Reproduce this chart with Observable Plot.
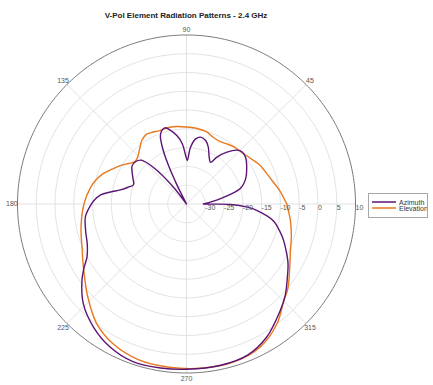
<!DOCTYPE html>
<html><head><meta charset="utf-8">
<script src="https://cdn.jsdelivr.net/npm/d3@7"></script>
<script src="https://cdn.jsdelivr.net/npm/@observablehq/plot@0.6"></script>
<style>
body{margin:0;background:#fff;font-family:"Liberation Sans",Arial,sans-serif;}
#wrap{position:relative;width:433px;height:385px;overflow:hidden;}
#chart svg{display:block;}
#title{position:absolute;left:0;width:372px;top:11px;text-align:center;font-weight:bold;font-size:8px;line-height:9px;color:#222;}
#legend{position:absolute;left:368px;top:193px;width:60px;height:25px;border:1px solid #a8a8a8;box-sizing:border-box;background:#fff;}
#legend svg{display:block;}
</style></head><body>
<div id="wrap"><div id="chart"></div><div id="title"></div><div id="legend"></div></div>
<script>
const chartTitle = "V-Pol Element Radiation Patterns - 2.4 GHz";
const seriesNames = ["Azimuth", "Elevation"];
const seriesColors = ["#5c1475", "#e8791e"];

// Azimuth pattern: angle (deg) and gain (dB)
const azAngles = [0,9,16,23,31,38,43,47,52,57,60,64,69,73,78,82,86,89,91,94,98,102,106,109,111,113,115,116.5,118,124,128,132,136,140,145,150,155,160,164,168,171,174,178,181,187,195,202,208,212,216,224,233,242,251,261,270,282,292,301,311,317,324,330,337,341,349,354.7,357,359.3,359.8,360];
const azValues = [-30.5,-25.8,-20.1,-17.9,-16.3,-15.0,-14.7,-15.4,-17.5,-20.1,-22.2,-21.2,-18.8,-17.4,-16.8,-17.5,-19.9,-23.4,-22.1,-18.9,-16.6,-15.0,-13.9,-14.5,-15.6,-18.5,-23.5,-29,-35,-35,-29,-22,-18.2,-17.4,-17.3,-18.3,-19.3,-20.0,-18.8,-17.0,-14.5,-12.0,-10.3,-9.4,-7.9,-7.2,-6.5,-5.0,-2.8,-0.6,3.2,6.1,8.2,9.3,9.2,9.0,8.9,8.4,6.4,2.9,0.9,-1.8,-3.8,-6.5,-8.0,-11.4,-16.1,-18.8,-23.3,-27.5,-30.5];

// Elevation pattern: angle (deg) and gain (dB)
const elAngles = [0,8,15,23,28,35,42,50,56,61,68,75,82,90,97,103,110,116,120,125,131,137,141,145,150,155,160,165,170,180,192,204,210,215,223,233,242,253,264,275,287,297,307,315,320,325,336,343,351,360];
const elValues = [-8.3,-9.9,-11.3,-12.4,-12.9,-14.0,-14.8,-15.2,-15.7,-16.1,-15.9,-15.0,-14.7,-14.5,-14.2,-14.1,-14.2,-13.8,-13.6,-14.3,-15.9,-17.1,-17.2,-16.2,-14.6,-13.1,-11.4,-10.1,-9.1,-7.7,-6.3,-4.6,-3.2,-1.8,1.0,4.8,7.0,8.4,8.7,8.9,8.9,7.9,5.0,1.6,0.2,-1.6,-4.7,-5.8,-7.0,-8.3];

const rMin = -35, rMax = 10;
const ringTicks = [-30,-25,-20,-15,-10,-5,0,5];
const radialTicks = [-30,-25,-20,-15,-10,-5,0,5,10];
const radialLabels = ["-30","-25","-20","-15","-10","-5","0","5","10"];
const spokeAngles = [0,45,90,135,180,225,270,315];
const angleTicks = [45,90,135,180,225,270,315];
const angleLabels = ["45","90","135","180","225","270","315"];

const lat = v => 90 - (Math.max(v, rMin) - rMin);
const circle = r => d3.geoCircle().center([0, 90]).radius(r).precision(1)();

const azimuth = azAngles.map((a, i) => ({angle: a, db: azValues[i]}));
const elevation = elAngles.map((a, i) => ({angle: a, db: elValues[i]}));

const plot = Plot.plot({
  width: 433, height: 385,
  marginLeft: 17, marginRight: 78, marginTop: 34.5, marginBottom: 12.5,
  style: {fontFamily: "'Liberation Sans', Arial, sans-serif", background: "transparent"},
  projection: {type: "azimuthal-equidistant", rotate: [90, -90], domain: circle(rMax - rMin), clip: false},
  marks: [
    Plot.geo(ringTicks, {geometry: t => circle(t - rMin), fill: "none", stroke: "#dedede", strokeWidth: 0.9}),
    Plot.link(spokeAngles, {x1: a => a, y1: 90, x2: a => a, y2: lat(rMax), stroke: "#dedede", strokeWidth: 0.9}),
    Plot.geo([rMax], {geometry: t => circle(t - rMin), fill: "none", stroke: "#7a7a7a", strokeWidth: 1}),
    Plot.line(elevation, {x: "angle", y: d => lat(d.db), curve: "catmull-rom", stroke: seriesColors[1], strokeWidth: 1.4}),
    Plot.line(azimuth, {x: "angle", y: d => lat(d.db), curve: "catmull-rom", stroke: seriesColors[0], strokeWidth: 1.4}),
    Plot.text(angleTicks, {x: a => a, y: lat(rMax) - 1.5, text: (d, i) => angleLabels[i], fontSize: 7, fill: "#555"}),
    Plot.text(radialTicks, {x: 0, y: t => lat(t), text: (d, i) => radialLabels[i], textAnchor: "start", dy: 4, fontSize: 7, fill: "#555"})
  ]
});
document.getElementById("chart").append(plot);
document.getElementById("title").textContent = chartTitle;

// Legend: line swatches with labels
const ns = "http://www.w3.org/2000/svg";
const lsvg = document.createElementNS(ns, "svg");
lsvg.setAttribute("width", 58);
lsvg.setAttribute("height", 23);
seriesNames.forEach((name, i) => {
  const y = 9 + i * 6 - (i === 0 ? 0 : 0) - 1;
  const ln = document.createElementNS(ns, "line");
  ln.setAttribute("x1", 3); ln.setAttribute("x2", 27);
  ln.setAttribute("y1", y); ln.setAttribute("y2", y);
  ln.setAttribute("stroke", seriesColors[i]);
  ln.setAttribute("stroke-width", 1.5);
  lsvg.append(ln);
  const tx = document.createElementNS(ns, "text");
  tx.setAttribute("x", 30); tx.setAttribute("y", y + 2.5);
  tx.setAttribute("font-size", 7);
  tx.setAttribute("font-family", "'Liberation Sans', Arial, sans-serif");
  tx.setAttribute("fill", "#333");
  tx.textContent = name;
  lsvg.append(tx);
});
document.getElementById("legend").append(lsvg);
</script>
</body></html>
